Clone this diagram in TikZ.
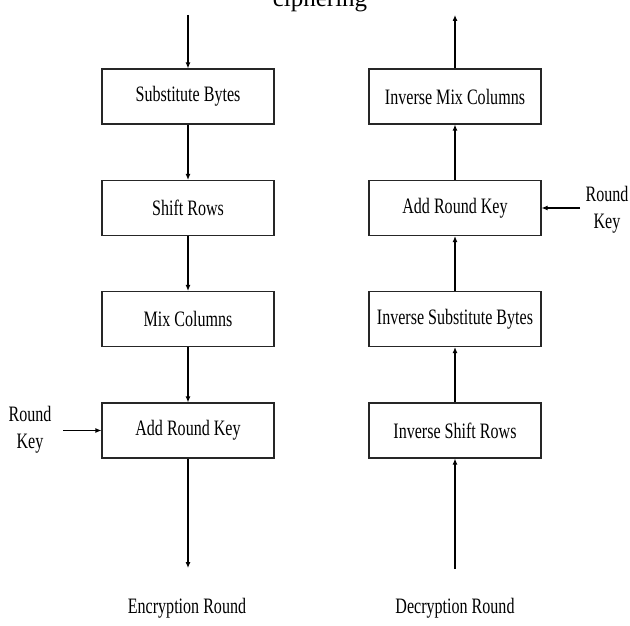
\documentclass[tikz,border=0pt]{standalone}
\usepackage{fontspec}
\setmainfont{Liberation Serif}[FakeStretch=0.73]
\newfontfamily\cipherfont{Liberation Serif}
\usetikzlibrary{arrows.meta}
\begin{document}
\begin{tikzpicture}[x=1pt,y=-1pt,
  box/.style={draw=black!85,line width=1.1pt,minimum width=172pt,minimum height=55pt,inner sep=0pt,font=\fontsize{22}{26}\selectfont},
  lbl/.style={font=\fontsize{22}{27}\selectfont,align=center,inner sep=0pt},
  captxt/.style={font=\fontsize{22}{26}\selectfont,anchor=base,inner sep=0pt},
  arr/.style={line width=1.1pt,-{Latex[length=6pt,width=5pt]}}]
\useasboundingbox (0,0) rectangle (630,626);
\node[font=\cipherfont\fontsize{25}{30}\selectfont,anchor=base,inner sep=0pt] (ttl) at (320,7) {ciphering};
% encryption column
\node[box] (sb) at (188,96.5) {Substitute Bytes};
\node[box] (sr) at (188,208) {Shift Rows};
\node[box] (mc) at (188,319) {Mix Columns};
\node[box] (ark) at (188,430.5) {Add Round Key};
% decryption column
\node[box] (imc) at (455,96.5) {Inverse Mix Columns};
\node[box] (ark2) at (455,208) {Add Round Key};
\node[box] (isb) at (455,319) {Inverse Substitute Bytes};
\node[box] (isr) at (455,430.5) {Inverse Shift Rows};
% free ends
\coordinate (inL) at (188,15);
\coordinate (outL) at (188,568);
\coordinate (outR) at (455,15);
\coordinate (inR) at (455,569);
\coordinate (rkLa) at (63,430.5);
\coordinate (rkRa) at (580,208);
% round key labels
\node[lbl] (rkL) at (30,430) {Round\\Key};
\node[lbl] (rkR) at (607,210) {Round\\Key};
% captions
\node[captxt] (enc) at (187,613) {Encryption Round};
\node[captxt] (dec) at (455,613) {Decryption Round};
% connectors
\draw[arr] (inL) -- (sb);
\draw[arr] (sb) -- (sr);
\draw[arr] (sr) -- (mc);
\draw[arr] (mc) -- (ark);
\draw[arr] (ark) -- (outL);
\draw[arr] (rkLa) -- (ark.west);
\draw[arr] (inR) -- (isr);
\draw[arr] (isr) -- (isb);
\draw[arr] (isb) -- (ark2);
\draw[arr] (ark2) -- (imc);
\draw[arr] (imc) -- (outR);
\draw[arr] (rkRa) -- (ark2.east);
\end{tikzpicture}
\end{document}
